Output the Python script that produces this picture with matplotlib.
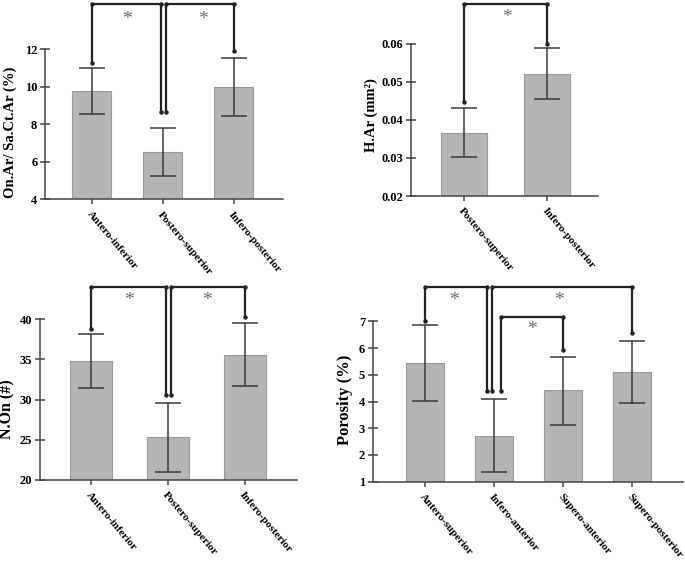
import matplotlib
matplotlib.use("Agg")
import matplotlib.pyplot as plt

# ── Data ───────────────────────────────────────────────────────────────────────
on_labels = ["Antero-inferior", "Postero-superior", "Infero-posterior"]
on_mean = [9.8, 6.55, 10.0]
on_err_hi = [11.03, 7.82, 11.55]
on_err_lo = [8.55, 5.25, 8.45]

har_labels = ["Postero-superior", "Infero-posterior"]
har_mean = [0.0366, 0.0521]
har_err_hi = [0.0430, 0.0589]
har_err_lo = [0.0302, 0.0456]

non_labels = ["Antero-inferior", "Postero-superior", "Infero-posterior"]
non_mean = [34.85, 25.3, 35.55]
non_err_hi = [38.2, 29.6, 39.5]
non_err_lo = [31.5, 21.0, 31.7]

por_labels = ["Antero-superior", "Infero-anterior", "Supero-anterior", "Supero-posterior"]
por_mean = [5.46, 2.72, 4.42, 5.12]
por_err_hi = [6.87, 4.08, 5.67, 6.27]
por_err_lo = [4.03, 1.36, 3.13, 3.96]

SERIF = ["Liberation Serif", "DejaVu Serif"]
BAR_COLOR = "#b5b5b5"
LINE_COLOR = "#222222"
STAR_COLOR = "#6a6a6a"


def bracket(ax, x1, y1, x2, y2, top, star_x, star_y):
    """Significance bracket drawn above the bars (may leave the axes)."""
    ax.plot([x1, x1, x2, x2], [y1, top, top, y2], color=LINE_COLOR, lw=1.6,
            marker="o", markersize=2.2, clip_on=False, zorder=5)
    ax.text(star_x, star_y, "*", color=STAR_COLOR, fontsize=14,
            ha="center", va="center", family=SERIF, clip_on=False)


def draw_panel(ax, labels, mean, hi, lo, ylim, yticks, ylabel, xlim,
               label_x, label_y, label_size):
    x = list(range(len(labels)))
    yerr = [[m - l for m, l in zip(mean, lo)], [h - m for m, h in zip(mean, hi)]]
    ax.bar(x, [m - ylim[0] for m in mean], bottom=ylim[0], width=0.55,
           color=BAR_COLOR, edgecolor="#9a9a9a", linewidth=0.8, zorder=2)
    ax.errorbar(x, mean, yerr=yerr, fmt="none", ecolor="#3a3a3a",
                elinewidth=1.1, capsize=9.5, capthick=1.1, zorder=3)
    ax.set_ylim(*ylim)
    ax.set_xlim(*xlim)
    ax.set_yticks(yticks)
    ax.set_xticks(x)
    ax.set_xticklabels(labels, rotation=-50, ha="left", va="top",
                       rotation_mode="anchor", fontsize=8, fontweight="bold",
                       family=SERIF)
    for t in ax.get_yticklabels():
        t.set_fontfamily(SERIF)
        t.set_fontweight("bold")
        t.set_fontsize(9)
    ax.set_ylabel(ylabel, fontsize=label_size, fontweight="bold", family=SERIF)
    ax.yaxis.set_label_coords(label_x, label_y)
    for s in ("top", "right"):
        ax.spines[s].set_visible(False)
    for s in ("left", "bottom"):
        ax.spines[s].set_color("#444444")
        ax.spines[s].set_linewidth(1.1)
    ax.tick_params(axis="both", direction="inout", length=7, width=1.1,
                   color="#444444", pad=2)
    ax.tick_params(axis="x", pad=4)


fig = plt.figure(figsize=(6.85, 5.61), dpi=100)

# Top-left: On.Ar / Sa.Ct.Ar
ax1 = fig.add_axes([0.0657, 0.6444, 0.347, 0.2674])
draw_panel(ax1, on_labels, on_mean, on_err_hi, on_err_lo, (4, 12), [4, 6, 8, 10, 12],
           "On.Ar/ Sa.Ct.Ar (%)", (-0.66, 2.69), -0.118, 0.45, 10.5)
bracket(ax1, 0, 11.3, 0.98, 8.68, 14.43, 0.49, 13.6)
bracket(ax1, 1.04, 8.68, 2.0, 11.94, 14.43, 1.57, 13.6)

# Top-right: H.Ar
ax2 = fig.add_axes([0.5996, 0.6506, 0.2734, 0.2715])
draw_panel(ax2, har_labels, har_mean, har_err_hi, har_err_lo, (0.02, 0.06),
           [0.02, 0.03, 0.04, 0.05, 0.06], "H.Ar (mm²)",
           (-0.64, 1.61), -0.175, 0.53, 10.5)
bracket(ax2, 0, 0.0448, 1.0, 0.0600, 0.0704, 0.52, 0.0670)

# Bottom-left: N.On
ax3 = fig.add_axes([0.0584, 0.1444, 0.3747, 0.2864])
draw_panel(ax3, non_labels, non_mean, non_err_hi, non_err_lo, (20, 40),
           [20, 25, 30, 35, 40], "N.On (#)", (-0.66, 2.67), -0.097, 0.44, 11.5)
bracket(ax3, 0, 38.8, 0.98, 30.6, 44.0, 0.5, 42.4)
bracket(ax3, 1.04, 30.6, 2.0, 40.3, 44.0, 1.5, 42.4)

# Bottom-right: Porosity
ax4 = fig.add_axes([0.5441, 0.1414, 0.4526, 0.2857])
draw_panel(ax4, por_labels, por_mean, por_err_hi, por_err_lo, (1, 7),
           [1, 2, 3, 4, 5, 6, 7], "Porosity (%)", (-0.76, 3.73), -0.064, 0.51, 12)
bracket(ax4, 0, 7.02, 0.9, 4.40, 8.28, 0.41, 7.78)
bracket(ax4, 0.97, 4.40, 3.0, 6.56, 8.28, 1.93, 7.78)
bracket(ax4, 1.1, 4.40, 2.0, 5.93, 7.18, 1.54, 6.7)

fig.savefig("out.png", dpi=100)
